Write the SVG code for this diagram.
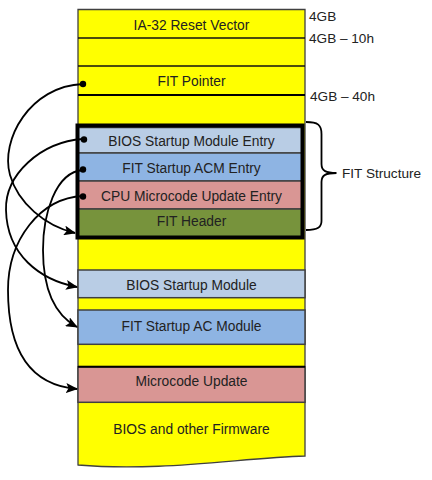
<svg xmlns="http://www.w3.org/2000/svg" width="432" height="480" viewBox="0 0 432 480">
<defs>
<style>
.t{font-family:"Liberation Sans",Arial,sans-serif;font-size:13.8px;fill:#222;text-anchor:middle}
.l{font-family:"Liberation Sans",Arial,sans-serif;font-size:13.6px;fill:#222}
.b1{fill:#B9CDE5;stroke:#404040;stroke-width:1.5}
.b2{fill:#8EB4E3;stroke:#404040;stroke-width:1.5}
.rd{fill:#D99694;stroke:#404040;stroke-width:1.5}
.gr{fill:#77933C;stroke:#404040;stroke-width:1.5}
.sep{stroke:#111;stroke-width:1.5}
.c{fill:none;stroke:#000;stroke-width:1.8}
.d{fill:#000}
</style>
<marker id="ah" viewBox="0 0 12 10" refX="11" refY="5" markerWidth="12" markerHeight="10" markerUnits="userSpaceOnUse" orient="auto">
<path d="M0,0 L12,5 L0,10 L2.5,5 z" fill="#000"/>
</marker>
</defs>
<rect width="432" height="480" fill="#fff"/>
<g id="column">
<path d="M78,9.5 H305 V456 C 240,458 160,472 78,465 Z" fill="#FFFF00" stroke="#404040" stroke-width="1.3"/>
<line class="sep" x1="78" y1="38" x2="305" y2="38"/>
<line class="sep" x1="78" y1="66" x2="305" y2="66"/>
<line x1="78" y1="95" x2="305" y2="95" stroke="#000" stroke-width="2"/>
</g>
<g id="reset-vector"><text class="t" x="191.5" y="30">IA-32 Reset Vector</text></g>
<g id="fit-pointer"><text class="t" x="191.5" y="85.5">FIT Pointer</text></g>
<g id="fit-structure">
<rect class="b1" x="77.5" y="127.5" width="225" height="25.5"/>
<rect class="b2" x="77.5" y="153" width="225" height="28"/>
<rect class="rd" x="77.5" y="181" width="225" height="28"/>
<rect class="gr" x="77.5" y="209" width="225" height="28.5"/>
<rect x="77.5" y="125.5" width="225" height="112" fill="none" stroke="#000" stroke-width="4"/>
</g>
<g id="bios-entry"><text class="t" x="191.5" y="145.5">BIOS Startup Module Entry</text></g>
<g id="acm-entry"><text class="t" x="191.5" y="173">FIT Startup ACM Entry</text></g>
<g id="ucode-entry"><text class="t" x="191.5" y="201">CPU Microcode Update Entry</text></g>
<g id="fit-header"><text class="t" x="191.5" y="226">FIT Header</text></g>
<g id="bios-module">
<rect class="b1" x="78" y="270" width="227" height="27.7"/>
<text class="t" x="191.5" y="289.5">BIOS Startup Module</text>
</g>
<g id="acm-module">
<rect class="b2" x="78" y="310" width="227" height="34.3"/>
<text class="t" x="191.5" y="330.5">FIT Startup AC Module</text>
</g>
<g id="ucode">
<rect class="rd" x="78" y="366.7" width="227" height="35.6"/>
<line x1="78" y1="366.7" x2="305" y2="366.7" stroke="#000" stroke-width="2"/>
<text class="t" x="191.5" y="385.5">Microcode Update</text>
</g>
<g id="bios-firmware"><text class="t" x="191.5" y="434">BIOS and other Firmware</text></g>
<g id="addr-labels">
<text class="l" x="309" y="21">4GB</text>
<text class="l" x="309" y="43">4GB – 10h</text>
<text class="l" x="310" y="100.5">4GB – 40h</text>
</g>
<g id="fit-brace">
<path d="M306,122 C 318,122 321.5,125 321.5,134 L321.5,164 C 321.5,171 326,173 336.5,173 C 326,173 321.5,175 321.5,182 L321.5,221 C 321.5,227 318,230 306,230" fill="none" stroke="#000" stroke-width="1.8"/>
<text class="l" x="342" y="177.5">FIT Structure</text>
</g>
<g id="connectors">
<path class="c" d="M83,84 C 30,86 0,140 10,175 C 18,203 45,226 75,233" marker-end="url(#ah)"/>
<path class="c" d="M83,139 C 40,142 5,175 6,210 C 7,255 40,280 77,287" marker-end="url(#ah)"/>
<path class="c" d="M83,170 C 55,172 43,215 43,250 C 43,290 55,315 77,327" marker-end="url(#ah)"/>
<path class="c" d="M83,196 C 40,198 8,240 8,290 C 8,350 30,385 77,389" marker-end="url(#ah)"/>
<circle class="d" cx="83" cy="84" r="3.2"/>
<circle class="d" cx="84" cy="139.5" r="3.2"/>
<circle class="d" cx="83" cy="169.5" r="3.2"/>
<circle class="d" cx="83" cy="196.5" r="3.2"/>
</g>
</svg>
